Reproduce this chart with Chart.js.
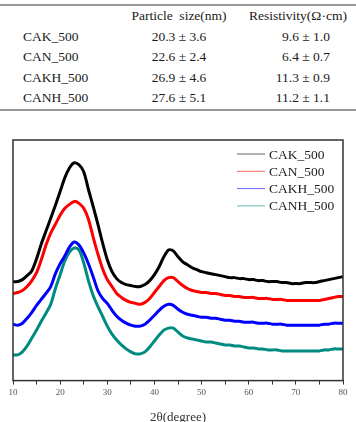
<!DOCTYPE html>
<html>
<head>
<meta charset="utf-8">
<script src="https://cdn.jsdelivr.net/npm/chart.js@4.4.0/dist/chart.umd.min.js"></script>
<style>
  body { margin: 0; background: #fff; width: 356px; height: 422px; overflow: hidden; position: relative; }
  #tbl { position: absolute; left: 0; top: 4px; width: 356px; border-collapse: collapse;
         font-family: "Liberation Serif", "Times New Roman", serif; font-size: 13.5px; color: #1a1a1a;
         border-top: 2px solid #999; border-bottom: 2px solid #999; table-layout: fixed; }
  #tbl td { height: 20.5px; padding: 0; white-space: pre; }
  #tbl td.lab { padding-left: 23px; }
  #tbl td.ps { text-align: center; }
  #tbl td.rs { text-align: right; padding-right: 26px; }
  #tbl td.hd { text-align: center; }
  #wrap { position: absolute; left: 0; top: 125px; width: 356px; height: 300px; }
</style>
</head>
<body>
<table id="tbl">
  <colgroup><col style="width:118px"><col style="width:122px"><col style="width:116px"></colgroup>
  <tbody id="tbody"></tbody>
</table>
<div id="wrap"><canvas id="myChart"></canvas></div>
<script>
// table
var samples = ["CAK_500", "CAN_500", "CAKH_500", "CANH_500"];
var particleSize = ["20.3 ± 3.6", "22.6 ± 2.4", "26.9 ± 4.6", "27.6 ± 5.1"];
var resistivity = ["9.6 ± 1.0", "6.4 ± 0.7", "11.3 ± 0.9", "11.2 ± 1.1"];

// XRD patterns (a.u.), 2θ from 10 to 80 deg
var twoTheta = [10,11,12,13,14,15,16,17,18,19,20,21,22,23,24,25,26,27,28,29,30,31,32,33,34,35,36,37,38,39,40,
  41,42,43,44,45,46,47,48,49,50,51,52,53,54,55,56,57,58,59,60,61,62,63,64,65,66,67,68,69,70,71,72,73,74,75,76,77,78,79,80];
var cak = [100,100,102,106,111,123,138,151,164,177,191,205,215,220,218,211,193,176,158,139,122,
  110,103,99,97,96,95,95,97,101,107,115,125,132,131,125,120,117,114,112,110,
  109,108,107,106,105,104,104,103,103,102,102,101,101,100,100,100,99,99,98,98,
  98,99,99,99,100,101,102,103,104,105];
var can = [88,89,91,95,101,109,122,137,149,158,167,174,178,181,179,174,163,145,128,113,102,
  95,88,84,81,79,78,77,79,83,89,95,101,104,104,100,96,93,91,90,89,
  89,88,88,87,86,86,85,85,84,84,84,83,83,83,82,82,82,81,81,81,
  81,81,81,81,81,82,83,84,85,85];
var cakh = [57,56,58,63,69,76,82,88,95,108,118,126,135,140,137,129,118,105,91,83,78,
  71,65,61,58,56,55,55,57,61,66,71,75,77,76,72,69,67,66,65,64,
  64,63,63,62,61,61,60,60,59,59,59,58,58,58,57,57,57,56,56,56,
  56,56,56,56,56,57,57,58,58,58];
var canh = [26,26,29,35,43,51,60,68,77,93,107,121,130,134,132,119,101,86,75,65,55,
  47,41,36,32,29,27,27,29,34,40,46,51,53,53,49,45,43,42,41,40,
  39,39,38,37,36,36,35,35,34,33,33,32,32,31,31,31,30,30,30,30,
  30,30,30,30,30,31,31,32,32,32];
var seriesColors = ["#000000", "#ff0000", "#0000ff", "#008b80"];

var tb = document.getElementById("tbody");
var hdr = document.createElement("tr");
hdr.innerHTML = '<td></td><td class="hd">Particle  size(nm)</td><td class="hd">Resistivity(Ω·cm)</td>';
tb.appendChild(hdr);
for (var i = 0; i < samples.length; i++) {
    var tr = document.createElement("tr");
    tr.innerHTML = '<td class="lab">' + samples[i] + '</td><td class="ps">' + particleSize[i] +
        '</td><td class="rs">' + resistivity[i] + '</td>';
    tb.appendChild(tr);
}

function pts(ys) {
    return twoTheta.map(function(x, k) { return {x: x, y: ys[k]}; });
}

var allSeries = [cak, can, cakh, canh];
var datasets = samples.map(function(name, k) {
    return {
        label: name,
        data: pts(allSeries[k]),
        borderColor: seriesColors[k],
        borderWidth: 3,
        pointRadius: 0,
        tension: 0.3,
        fill: false
    };
});

// frame + legend inside the plot
var framePlugin = {
    id: "frame",
    afterDatasetsDraw: function(chart) {
        var a = chart.chartArea, c = chart.ctx;
        c.save();
        c.strokeStyle = "#333";
        c.lineWidth = 1.5;
        c.strokeRect(a.left, a.top, a.right - a.left, a.bottom - a.top);
        c.font = '13.5px "Liberation Serif", serif';
        c.textBaseline = "middle";
        chart.data.datasets.forEach(function(ds, k) {
            var y = a.top + 14 + k * 17.3;
            c.globalAlpha = 0.6;
            c.strokeStyle = ds.borderColor;
            c.lineWidth = 1;
            c.beginPath();
            c.moveTo(a.right - 106, y);
            c.lineTo(a.right - 78, y);
            c.stroke();
            c.globalAlpha = 1;
            c.fillStyle = "#222";
            c.fillText(ds.label, a.right - 74, y + 1);
        });
        c.restore();
    }
};

var ctx = document.getElementById("myChart");
var myChart = new Chart(ctx, {
    type: 'line',
    data: { datasets: datasets },
    plugins: [framePlugin],
    options: {
        responsive: true,
        maintainAspectRatio: false,
        animation: false,
        layout: { padding: { left: 13, right: 13, top: 15, bottom: 0 } },
        plugins: {
            legend: { display: false },
            tooltip: { enabled: false }
        },
        scales: {
            x: {
                type: 'linear',
                min: 10,
                max: 80,
                grid: { display: true, drawOnChartArea: false, drawTicks: true, tickLength: 4, color: '#333' },
                border: { display: true, color: '#333' },
                ticks: {
                    stepSize: 5,
                    autoSkip: false,
                    maxRotation: 0,
                    padding: 3,
                    color: '#555',
                    font: { family: '"Liberation Serif", serif', size: 9 },
                    callback: function(v) { return v % 10 === 0 ? v : ''; }
                },
                title: {
                    display: true,
                    text: '2θ(degree)',
                    color: '#333',
                    font: { family: '"Liberation Serif", serif', size: 13 },
                    padding: { top: 8, bottom: 0 }
                }
            },
            y: {
                display: false,
                min: 0,
                max: 243
            }
        }
    }
});
</script>
</body>
</html>
